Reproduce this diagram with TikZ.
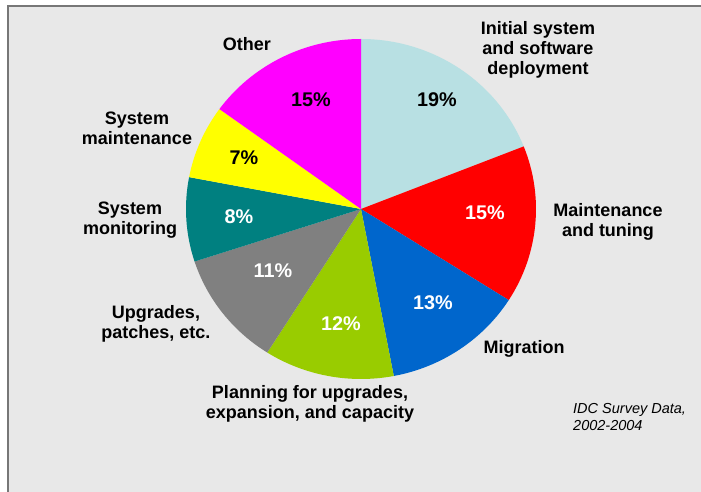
\documentclass[tikz,border=0pt]{standalone}
\usepackage{fontspec}
\setmainfont{Liberation Sans}
\usetikzlibrary{positioning}

\definecolor{panelGray}{HTML}{E8E8E8}
\definecolor{frameGray}{HTML}{777777}
\definecolor{deployBlue}{HTML}{B8E0E3}
\definecolor{tuneRed}{HTML}{FF0000}
\definecolor{migBlue}{HTML}{0066CC}
\definecolor{planGreen}{HTML}{99CC00}
\definecolor{upgGray}{HTML}{808080}
\definecolor{monTeal}{HTML}{008080}
\definecolor{maintYellow}{HTML}{FFFF00}
\definecolor{otherMagenta}{HTML}{FF00FF}

\begin{document}
\begin{tikzpicture}[
    x=1pt, y=1pt,
    pieArc/.style={x radius=175, y radius=170},
    sliceLabel/.style={align=center, inner sep=0pt, font=\bfseries\fontsize{18}{19.8}\selectfont},
    pctLabel/.style={inner sep=0pt, font=\bfseries\fontsize{19.8}{22}\selectfont}
]

    % --- BACKGROUND AND FRAME ---
    \useasboundingbox (-361,-283) rectangle (340,209);
    \fill[white] (-361,-283) rectangle (340,209);
    \fill[panelGray] (-353,-283) rectangle (340,202.5);
    \draw[frameGray, line width=2pt] (-353,-283) -- (-353,202.5) -- (340,202.5);

    % --- PIE SLICES (clockwise from the top) ---
    \fill[deployBlue] (0,0) -- (90:175 and 170) arc[pieArc, start angle=90, end angle=21.6] -- cycle;
    \fill[tuneRed] (0,0) -- (21.6:175 and 170) arc[pieArc, start angle=21.6, end angle=-32.4] -- cycle;
    \fill[migBlue] (0,0) -- (-32.4:175 and 170) arc[pieArc, start angle=-32.4, end angle=-79.2] -- cycle;
    \fill[planGreen] (0,0) -- (-79.2:175 and 170) arc[pieArc, start angle=-79.2, end angle=-122.4] -- cycle;
    \fill[upgGray] (0,0) -- (-122.4:175 and 170) arc[pieArc, start angle=-122.4, end angle=-162] -- cycle;
    \fill[monTeal] (0,0) -- (-162:175 and 170) arc[pieArc, start angle=-162, end angle=-190.8] -- cycle;
    \fill[maintYellow] (0,0) -- (-190.8:175 and 170) arc[pieArc, start angle=-190.8, end angle=-216] -- cycle;
    \fill[otherMagenta] (0,0) -- (-216:175 and 170) arc[pieArc, start angle=-216, end angle=-270] -- cycle;

    % --- PERCENTAGES ---
    \node[pctLabel] (pDeploy) at (76,109) {19\%};
    \node[pctLabel, text=white] (pTune) at (124,-4) {15\%};
    \node[pctLabel, text=white] (pMig) at (72,-94) {13\%};
    \node[pctLabel, text=white] (pPlan) at (-20,-115) {12\%};
    \node[pctLabel, text=white] (pUpg) at (-88,-62) {11\%};
    \node[pctLabel, text=white] (pMon) at (-122,-8) {8\%};
    \node[pctLabel] (pMaint) at (-117,51) {7\%};
    \node[pctLabel] (pOther) at (-50,109) {15\%};

    % --- SLICE NAMES ---
    \node[sliceLabel] (lDeploy) at (177,159) {Initial system\\and software\\deployment};
    \node[sliceLabel] (lTune) at (247,-13) {Maintenance\\and tuning};
    \node[sliceLabel] (lMig) at (163,-140) {Migration};
    \node[sliceLabel] (lPlan) at (-51,-195) {Planning for upgrades,\\expansion, and capacity};
    \node[sliceLabel] (lUpg) at (-205,-115) {Upgrades,\\patches, etc.};
    \node[sliceLabel] (lMon) at (-231,-11) {System\\monitoring};
    \node[sliceLabel] (lMaint) at (-224,81) {System\\maintenance};
    \node[sliceLabel] (lOther) at (-114,165) {Other};

    % Source note
    \node[anchor=west, align=left, inner sep=0pt, font=\itshape\fontsize{14.5}{16.5}\selectfont]
        (source) at (212,-208) {IDC Survey Data,\\2002-2004};

\end{tikzpicture}
\end{document}
